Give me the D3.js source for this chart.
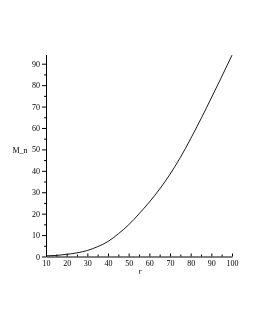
<!DOCTYPE html>
<html>
<head>
<meta charset="utf-8">
<script src="https://cdn.jsdelivr.net/npm/d3@7"></script>
<style>
  body { margin: 0; background: #fff; }
  svg { display: block; will-change: transform; }
  text { -webkit-font-smoothing: antialiased; }
  .axis text { font-family: "Liberation Serif", "DejaVu Serif", serif; font-size: 8px; fill: #000; }
  .axis path, .axis line { stroke: #000; stroke-width: 1; }
</style>
</head>
<body>
<div id="output"></div>
<script>
// values
var rValues = [10, 15, 20, 25, 30, 35, 40, 45, 50, 55, 60, 65, 70, 75, 80, 85, 90, 95, 100];
var mValues = [0.3, 0.5, 1.0, 1.7, 2.8, 4.6, 7.0, 10.6, 14.8, 19.9, 25.4, 31.5, 38.4, 46.2, 55.0, 64.3, 74.0, 83.9, 94.0];
var xTicks = [10, 20, 30, 40, 50, 60, 70, 80, 90, 100];
var yTicks = [0, 10, 20, 30, 40, 50, 60, 70, 80, 90];

function renderGraph(){
  var width = 255;
  var height = 330;

  var svg = d3.select('#output')
  .append('svg')
  .attr('width', width)
  .attr('height', height);

  var xScale = d3.scaleLinear().domain([10, 100]).range([46, 232]);
  var yScale = d3.scaleLinear().domain([0, 94.3]).range([256.5, 54.5]);

  // minor ticks first, majors on top
  var xMinor = d3.range(15, 100, 10);
  var yMinor = d3.range(5, 95, 10);

  svg.append('g')
  .attr('class', 'axis')
  .attr('transform', `translate(0, ${yScale(0)})`)
  .call(d3.axisTop(xScale).tickValues(xMinor).tickSize(2).tickFormat(''))
  .call((g) => g.select('.domain').remove());

  var xAxis = svg.append('g')
  .attr('class', 'axis')
  .attr('transform', `translate(0, ${yScale(0)})`)
  .call(d3.axisTop(xScale).tickValues(xTicks).tickSize(3).tickSizeOuter(0));
  xAxis.selectAll('text').attr('y', 4).attr('dy', '0.71em');

  svg.append('g')
  .attr('class', 'axis')
  .attr('transform', `translate(${xScale(10)}, 0)`)
  .call(d3.axisLeft(yScale).tickValues(yMinor).tickSize(2).tickFormat(''))
  .call((g) => g.select('.domain').remove());

  svg.append('g')
  .attr('class', 'axis')
  .attr('transform', `translate(${xScale(10)}, 0)`)
  .call(d3.axisLeft(yScale).tickValues(yTicks).tickSize(4).tickSizeOuter(0).tickPadding(2));

  // axis titles
  svg.append('text')
  .attr('x', 20).attr('y', 153)
  .attr('text-anchor', 'middle')
  .style('font-family', '"Liberation Serif", serif')
  .style('font-size', '8px')
  .text('M_n');

  svg.append('text')
  .attr('x', 140).attr('y', 274)
  .attr('text-anchor', 'middle')
  .style('font-family', '"Liberation Serif", serif')
  .style('font-size', '8px')
  .style('font-style', 'italic')
  .text('r');

  var line = d3.line()
  .x((d, i) => xScale(rValues[i]))
  .y((d) => yScale(d))
  .curve(d3.curveMonotoneX);

  svg.append('path')
  .datum(mValues)
  .attr('fill', 'none')
  .attr('stroke', '#000')
  .attr('stroke-width', 0.9)
  .attr('d', line);
}

document.addEventListener('DOMContentLoaded', renderGraph);
</script>
</body>
</html>
